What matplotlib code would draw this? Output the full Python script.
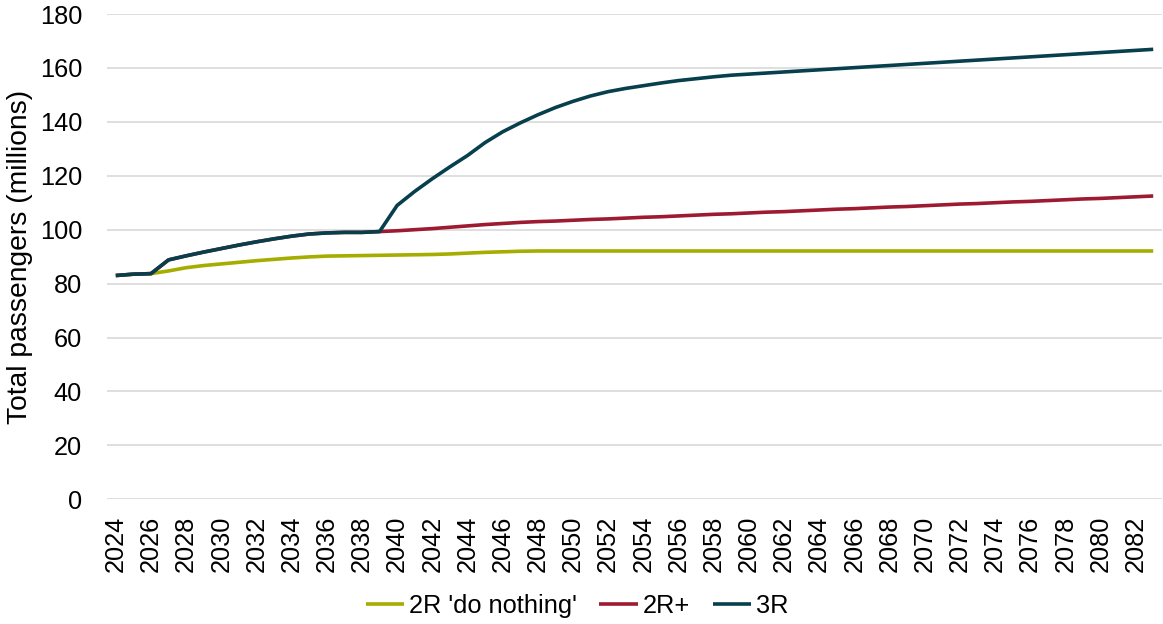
import matplotlib
matplotlib.use("Agg")
import matplotlib.pyplot as plt
import numpy as np

plt.rcParams['font.family'] = ['Liberation Sans', 'DejaVu Sans']

years = list(range(2024, 2084))

do_nothing = [83.0, 83.5, 83.7, 84.7, 85.9, 86.7, 87.3, 87.9, 88.5, 89.0,
              89.5, 89.9, 90.2, 90.3, 90.4, 90.5, 90.6, 90.7, 90.8, 91.0,
              91.3, 91.6, 91.8, 92.0, 92.1, 92.1, 92.1, 92.1, 92.1, 92.1,
              92.1, 92.1, 92.1, 92.1, 92.1, 92.1, 92.1, 92.1, 92.1, 92.1,
              92.1, 92.1, 92.1, 92.1, 92.1, 92.1, 92.1, 92.1, 92.1, 92.1,
              92.1, 92.1, 92.1, 92.1, 92.1, 92.1, 92.1, 92.1, 92.1, 92.1]

two_r_plus = [83.0, 83.5, 83.7, 88.8, 90.3, 91.7, 93.0, 94.3, 95.5, 96.6,
              97.6, 98.4, 98.8, 99.0, 99.0, 99.3, 99.6, 100.0, 100.4, 100.9,
              101.4, 101.9, 102.3, 102.7, 103.0, 103.2, 103.5, 103.8, 104.0, 104.3,
              104.6, 104.8, 105.1, 105.4, 105.7, 105.9, 106.2, 106.5, 106.7, 107.0,
              107.3, 107.6, 107.8, 108.1, 108.4, 108.6, 108.9, 109.2, 109.5, 109.7,
              110.0, 110.3, 110.5, 110.8, 111.1, 111.4, 111.6, 111.9, 112.2, 112.5]

three_r = [83.0, 83.5, 83.7, 88.8, 90.3, 91.7, 93.0, 94.3, 95.5, 96.6,
           97.6, 98.4, 98.8, 99.0, 99.0, 99.3, 109.0, 114.2, 118.9, 123.3,
           127.5, 132.3, 136.3, 139.6, 142.6, 145.3, 147.6, 149.6, 151.2, 152.4,
           153.4, 154.4, 155.3, 156.0, 156.7, 157.3, 157.7, 158.1, 158.5, 158.9,
           159.3, 159.7, 160.1, 160.5, 160.9, 161.3, 161.7, 162.1, 162.5, 162.9,
           163.3, 163.7, 164.1, 164.5, 164.9, 165.3, 165.7, 166.1, 166.5, 166.9]

series_names = ["2R 'do nothing'", "2R+", "3R"]
colors = ['#a4ad00', '#9d1a30', '#073f4d']

fig = plt.figure(figsize=(11.63, 6.24), dpi=100)
ax = fig.add_axes([107/1163, 1-499.3/624, (1162-107)/1163, (499.3-14)/624])

for vals, name, c in zip([do_nothing, two_r_plus, three_r], series_names, colors):
    ax.plot(years, vals, color=c, lw=2.6, label=name, solid_capstyle='butt')

ax.set_xlim(2023.5, 2083.5)
ax.set_ylim(0, 180)
ax.set_yticks(np.arange(0, 181, 20))
ax.set_xticks(years[::2])
ax.set_xticklabels([str(y) for y in years[::2]], rotation=90)
ax.tick_params(axis='both', length=0, labelsize=18.3, colors='black')
ax.tick_params(axis='x', pad=12)
ax.tick_params(axis='y', pad=18)
ax.grid(axis='y', color='#d9d9d9', lw=1.2)
ax.set_axisbelow(True)
for s in ax.spines.values():
    s.set_visible(False)

ax.set_ylabel('Total passengers (millions)', fontsize=20.3)
ax.yaxis.set_label_coords(-0.07, 0.5)

fig.legend(loc='center', bbox_to_anchor=(577/1163, 1-606/624), ncol=3,
           frameon=False, fontsize=18.3, handlelength=1.5, handletextpad=0.2,
           columnspacing=0.9)

fig.savefig('out.png', dpi=100)
